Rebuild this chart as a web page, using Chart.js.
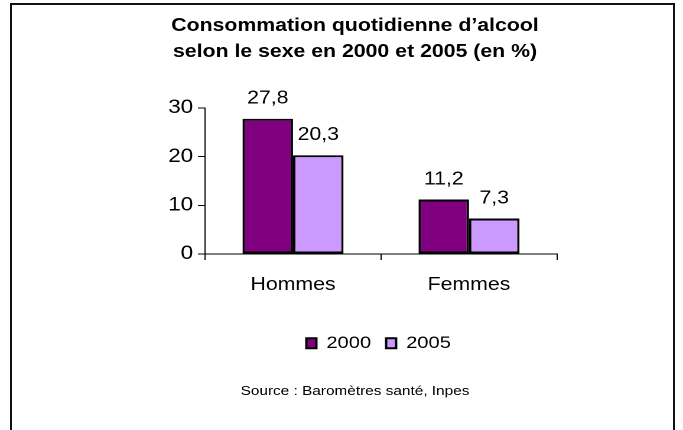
<!DOCTYPE html>
<html>
<head>
<meta charset="utf-8">
<script src="https://cdn.jsdelivr.net/npm/chart.js@4.4.1/dist/chart.umd.min.js"></script>
<style>
  html, body { margin: 0; padding: 0; background: #fff; }
  #wrap { position: relative; width: 683px; height: 430px; overflow: hidden; }
  #frame { position: absolute; left: 10px; top: 3px; width: 661px; height: 440px; border: 2px solid #111; border-bottom: none; }
  #chart { position: absolute; left: 0; top: 0; }
</style>
</head>
<body>
<div id="wrap">
  <div id="frame"></div>
  <!-- drawn at 578 wide then stretched to 683, like the original picture -->
  <canvas id="chart" width="578" height="430" style="width:683px;height:430px"></canvas>
</div>
<script>
const categories = ['Hommes', 'Femmes'];
const seriesLabels = ['2000', '2005'];
const values2000 = [27.8, 11.2];
const values2005 = [20.3, 7.3];
const yTicks = [0, 10, 20, 30];

const SX = 683 / 578; // horizontal stretch

Chart.defaults.font.family = '"Liberation Sans", Arial, sans-serif';
Chart.defaults.color = '#000';

// value labels above the bars, with a French decimal comma
const barValues = {
  id: 'barValues',
  afterDatasetsDraw(chart) {
    const ctx = chart.ctx;
    ctx.save();
    ctx.font = '18px "Liberation Sans", Arial, sans-serif';
    ctx.fillStyle = '#000';
    ctx.textAlign = 'center';
    ctx.textBaseline = 'middle';
    chart.data.datasets.forEach((ds, i) => {
      chart.getDatasetMeta(i).data.forEach((bar, j) => {
        ctx.fillText(String(ds.data[j]).replace('.', ','), bar.x, bar.y - 20);
      });
    });
    ctx.restore();
  }
};

// legend sits a bit right of the title centre in the original
const shiftLegend = {
  id: 'shiftLegend',
  afterUpdate(chart) {
    chart.legend.left += 20;
    chart.legend.right += 20;
  }
};

const ctx = document.getElementById('chart').getContext('2d');
const chart = new Chart(ctx, {
  type: 'bar',
  data: {
    labels: categories,
    datasets: [{
      label: seriesLabels[0],
      data: values2000,
      backgroundColor: '#800080',
      borderColor: '#000',
      borderWidth: 2,
      borderSkipped: false,
      categoryPercentage: 0.574,
      barPercentage: 1
    },
    {
      label: seriesLabels[1],
      data: values2005,
      backgroundColor: '#CC99FF',
      borderColor: '#000',
      borderWidth: 2,
      borderSkipped: false,
      categoryPercentage: 0.574,
      barPercentage: 1
    }]
  },
  options: {
    responsive: false,
    animation: false,
    devicePixelRatio: 2,
    layout: {
      padding: { top: 0, right: 106.6, bottom: 31, left: 129.4 }
    },
    scales: {
      x: {
        grid: { drawOnChartArea: false, offset: true, tickLength: 6, color: '#000' },
        border: { color: '#000', width: 1 },
        ticks: { font: { size: 18 }, padding: 14, color: '#000' },
        afterFit(scale) { scale.height = 68; }
      },
      y: {
        min: 0,
        max: 30,
        grid: { drawOnChartArea: false, tickLength: 6, color: '#000' },
        border: { color: '#000', width: 1 },
        ticks: { font: { size: 19 }, padding: 4, color: '#000', stepSize: 10 },
        afterBuildTicks(scale) { scale.ticks = yTicks.map(v => ({ value: v })); },
        afterFit(scale) { scale.width = 44.1; }
      }
    },
    plugins: {
      title: {
        display: true,
        text: ['Consommation quotidienne d\u2019alcool', 'selon le sexe en 2000 et 2005 (en %)'],
        font: { size: 18, weight: 'bold', lineHeight: 26 / 18 },
        color: '#000',
        padding: { top: 13, bottom: 43 }
      },
      legend: {
        position: 'bottom',
        labels: {
          boxWidth: 10 / SX,
          boxHeight: 10,
          padding: 12.7,
          font: { size: 17 },
          color: '#000'
        }
      },
      subtitle: {
        display: true,
        position: 'bottom',
        text: 'Source : Barom\u00e8tres sant\u00e9, Inpes',
        font: { size: 13 },
        color: '#000',
        padding: { top: 21.7, bottom: 0 }
      },
      tooltip: { enabled: false }
    }
  },
  plugins: [barValues, shiftLegend]
});
</script>
</body>
</html>
